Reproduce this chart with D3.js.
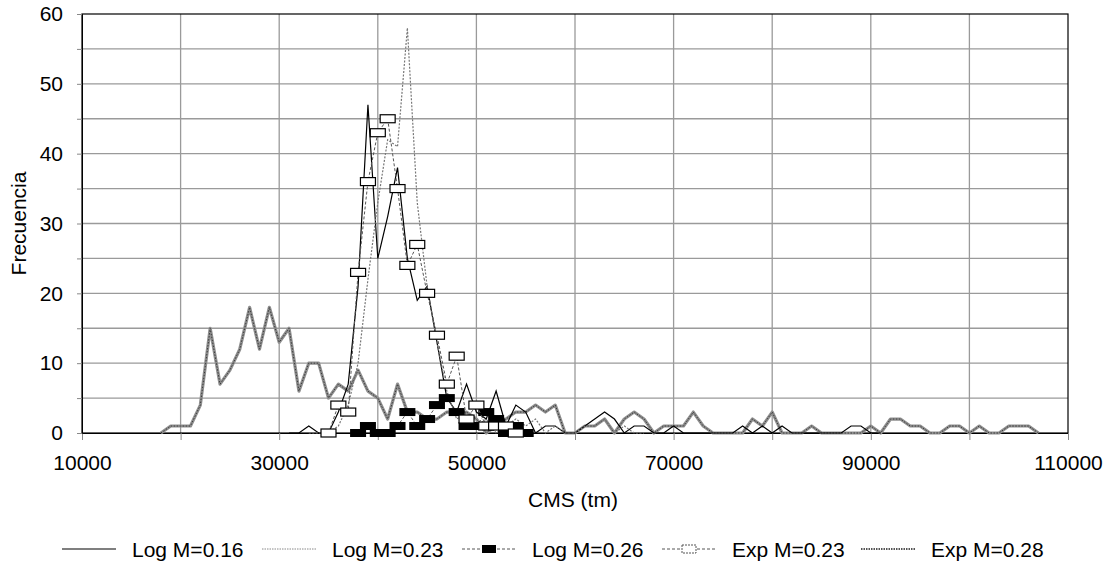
<!DOCTYPE html>
<html><head><meta charset="utf-8">
<script src="https://cdn.jsdelivr.net/npm/d3@7"></script>
<style>body{margin:0;background:#fff} svg{display:block} text{font-family:Arial,"Liberation Sans",sans-serif;fill:#000}</style>
</head><body>
<svg id="c" width="1115" height="565"></svg>
<script>
// CMS (tm) categories
const cms = [18000,19000,20000,21000,22000,23000,24000,25000,26000,27000,28000,29000,30000,31000,32000,33000,34000,35000,36000,37000,38000,39000,40000,41000,42000,43000,44000,45000,46000,47000,48000,49000,50000,51000,52000,53000,54000,55000,56000,57000,58000,59000,60000,61000,62000,63000,64000,65000,66000,67000,68000,69000,70000,71000,72000,73000,74000,75000,76000,77000,78000,79000,80000,81000,82000,83000,84000,85000,86000,87000,88000,89000,90000,91000,92000,93000,94000,95000,96000,97000,98000,99000,100000,101000,102000,103000,104000,105000,106000,107000];
const N = null;
//                 18 19 20 21 22 23 24 25 26 27 28 29 30 31 32 33 34 35 36 37 38 39 40 41 42 43 44 45 46 47 48 49 50 51 52 53 54 55 56 57 58 59 60 61 62 63 64 65 66 67 68 69 70 71 72 73 74 75 76 77 78 79 80 81 82 83 84 85 86 87 88 89 90 91 92 93 94 95 96 97 98 99 100 101 102 103 104 105 106 107
const logM016 = [N, N, N, N, N, N, N, N, N, N, N, N, N, 0, 0, 1, 0, 0, 3, 7,21,47,25,31,38,25,19,21,13, 5, 3, 7, 3, 2, 6, 1, 4, 3, 0, 1, 1, 0, 0, 1, 2, 3, 2, 0, 1, 1, 0, 0, 1, 0, 0, 0, 0, 0, 0, 1, 0, 1, 0, 1, 0, 0, 0, 0, 0, 0, 1, 1, 0, 0, N, N, N, N, N, N, N, N, N, N, N, N, N, N, N, N];
const logM023 = [N, N, N, N, N, N, N, N, N, N, N, N, N, N, N, 0, 0, 0, 1, 4,10,22,33,42,41,58,33,21,13, 6, 2, 3, 1, 2, 0, 1, 2, 1, 2, 0, 1, 0, 0, 1, 1, 2, 0, 1, 0, 0, N, N, N, N, N, N, N, N, N, N, N, N, N, N, N, N, N, N, N, N, N, N, N, N, N, N, N, N, N, N, N, N, N, N, N, N, N, N, N, N];
const logM026 = [N, N, N, N, N, N, N, N, N, N, N, N, N, N, N, N, N, N, N, N, 0, 1, 0, 0, 1, 3, 1, 2, 4, 5, 3, 1, 1, 3, 2, 0, 1, 0, N, N, N, N, N, N, N, N, N, N, N, N, N, N, N, N, N, N, N, N, N, N, N, N, N, N, N, N, N, N, N, N, N, N, N, N, N, N, N, N, N, N, N, N, N, N, N, N, N, N, N, N];
const expM023 = [N, N, N, N, N, N, N, N, N, N, N, N, N, N, N, N, N, 0, 4, 3,23,36,43,45,35,24,27,20,14, 7,11, 2, 4, 1, 1, 1, 0, N, N, N, N, N, N, N, N, N, N, N, N, N, N, N, N, N, N, N, N, N, N, N, N, N, N, N, N, N, N, N, N, N, N, N, N, N, N, N, N, N, N, N, N, N, N, N, N, N, N, N, N, N];
const expM028 = [0, 1, 1, 1, 4,15, 7, 9,12,18,12,18,13,15, 6,10,10, 5, 7, 6, 9, 6, 5, 2, 7, 3, 3, 2, 2, 3, 3, 3, 2, 0, 1, 2, 3, 3, 4, 3, 4, 0, 0, 1, 1, 2, 0, 2, 3, 2, 0, 1, 1, 1, 3, 1, 0, 0, 0, 0, 2, 1, 3, 0, 0, 0, 1, 0, 0, 0, 0, 0, 1, 0, 2, 2, 1, 1, 0, 0, 1, 1, 0, 1, 0, 0, 1, 1, 1, 0];

const xTickLabels = [10000,30000,50000,70000,90000,110000];
const yTickLabels = [0,10,20,30,40,50,60];
const legendNames = ["Log M=0.16","Log M=0.23","Log M=0.26","Exp M=0.23","Exp M=0.28"];

const svg = d3.select("#c");
const FS = 21;
const x = d3.scaleLinear().domain([10000,110000]).range([82,1068]);
const y = d3.scaleLinear().domain([0,60]).range([433,14]);

// grid
const g = svg.append("g");
g.selectAll("line.h").data(d3.range(5,60,5)).join("line")
  .attr("x1",x(10000)).attr("x2",x(110000)).attr("y1",d=>y(d)).attr("y2",d=>y(d))
  .attr("stroke","#9a9a9a").attr("stroke-width",1.3);
g.selectAll("line.v").data(d3.range(20000,110000,10000)).join("line")
  .attr("y1",y(0)).attr("y2",y(60)).attr("x1",d=>x(d)).attr("x2",d=>x(d))
  .attr("stroke","#9a9a9a").attr("stroke-width",1.3);
// frame
svg.append("rect").attr("x",x(10000)).attr("y",y(60)).attr("width",x(110000)-x(10000)).attr("height",y(0)-y(60))
  .attr("fill","none").attr("stroke","#000").attr("stroke-width",1.2);

// axes
const xAxis = d3.axisBottom(x).tickValues(d3.range(10000,110001,10000)).tickSize(7)
  .tickFormat(d=> xTickLabels.includes(d) ? d : "");
const xa = svg.append("g").attr("transform",`translate(0,${y(0)})`).call(xAxis);
xa.select(".domain").attr("stroke","#000");
xa.selectAll(".tick line").attr("stroke","#888");
xa.selectAll("text").attr("font-size",FS).attr("font-family","Arial, Liberation Sans, sans-serif").attr("dy","1.3em").attr("fill","#000");

const yAxis = d3.axisLeft(y).tickValues(d3.range(0,61,5)).tickSize(5)
  .tickFormat(d=> yTickLabels.includes(d) ? d : "");
const ya = svg.append("g").attr("transform",`translate(${x(10000)},0)`).call(yAxis);
ya.select(".domain").attr("stroke","#000");
ya.selectAll(".tick line").attr("stroke","#888");
ya.selectAll("text").attr("font-size",FS).attr("font-family","Arial, Liberation Sans, sans-serif").attr("x",-19).attr("fill","#000");

// titles
svg.append("text").attr("x",573).attr("y",507).attr("text-anchor","middle").attr("font-size",FS).text("CMS (tm)");
svg.append("text").attr("transform",`translate(26,${(y(0)+y(60))/2}) rotate(-90)`).attr("text-anchor","middle").attr("font-size",FS).text("Frecuencia");

function pts(vals){ return cms.map((c,i)=>({x:c,v:vals[i]})).filter(d=>d.v!==null); }
const line = d3.line().x(d=>x(d.x)).y(d=>y(d.v));

const plot = svg.append("g");
// Exp M=0.28 thick gray dotted
const p28 = pts(expM028);
plot.append("path").attr("d",line(p28)).attr("fill","none").attr("stroke","#8f8f8f").attr("stroke-width",3.2).attr("stroke-linejoin","round");
plot.append("path").attr("d",line(p28)).attr("fill","none").attr("stroke","#3a3a3a").attr("stroke-width",1).attr("stroke-dasharray","1.5,1.5");
// Log M=0.16 black solid
plot.append("path").attr("d",line(pts(logM016))).attr("fill","none").attr("stroke","#000").attr("stroke-width",1.2);
// Log M=0.23 gray dashed
plot.append("path").attr("d",line(pts(logM023))).attr("fill","none").attr("stroke","#777").attr("stroke-width",1.2).attr("stroke-dasharray","2,1.5");
// Log M=0.26 dashed + black squares
const p26 = pts(logM026);
plot.append("path").attr("d",line(p26)).attr("fill","none").attr("stroke","#555").attr("stroke-width",1).attr("stroke-dasharray","3,2");
plot.selectAll("rect.m26").data(p26).join("rect").attr("x",d=>x(d.x)-8).attr("y",d=>y(d.v)-4).attr("width",16).attr("height",8).attr("fill","#000");
// Exp M=0.23 dashed + hollow squares
const p23 = pts(expM023);
plot.append("path").attr("d",line(p23)).attr("fill","none").attr("stroke","#555").attr("stroke-width",1).attr("stroke-dasharray","3,2");
plot.selectAll("rect.m23").data(p23).join("rect").attr("x",d=>x(d.x)-7.5).attr("y",d=>y(d.v)-4).attr("width",15).attr("height",8).attr("fill","#fff").attr("stroke","#000").attr("stroke-width",1.2);

// legend
const lg = svg.append("g").attr("transform","translate(0,549)");
const lx = [62,262,462,662,861];
legendNames.forEach((name,i)=>{
  const gg = lg.append("g").attr("transform",`translate(${lx[i]},0)`);
  if(i===0) gg.append("line").attr("x1",0).attr("x2",54).attr("stroke","#000").attr("stroke-width",1.2);
  if(i===1) gg.append("line").attr("x1",0).attr("x2",54).attr("stroke","#888").attr("stroke-width",1).attr("stroke-dasharray","1.5,1");
  if(i===2){ gg.append("line").attr("x1",0).attr("x2",54).attr("stroke","#555").attr("stroke-dasharray","3,2");
    gg.append("rect").attr("x",20).attr("y",-4).attr("width",14).attr("height",8).attr("fill","#000"); }
  if(i===3){ gg.append("line").attr("x1",0).attr("x2",54).attr("stroke","#555").attr("stroke-dasharray","3,2");
    gg.append("rect").attr("x",20).attr("y",-4).attr("width",14).attr("height",8).attr("fill","#fff").attr("stroke","#555").attr("stroke-dasharray","2,1"); }
  if(i===4){ gg.append("line").attr("x1",0).attr("x2",54).attr("stroke","#555").attr("stroke-width",2).attr("stroke-dasharray","1.5,1"); }
  gg.append("text").attr("x",70).attr("y",0).attr("dominant-baseline","central").attr("font-size",FS).text(name);
});
</script>
</body></html>
